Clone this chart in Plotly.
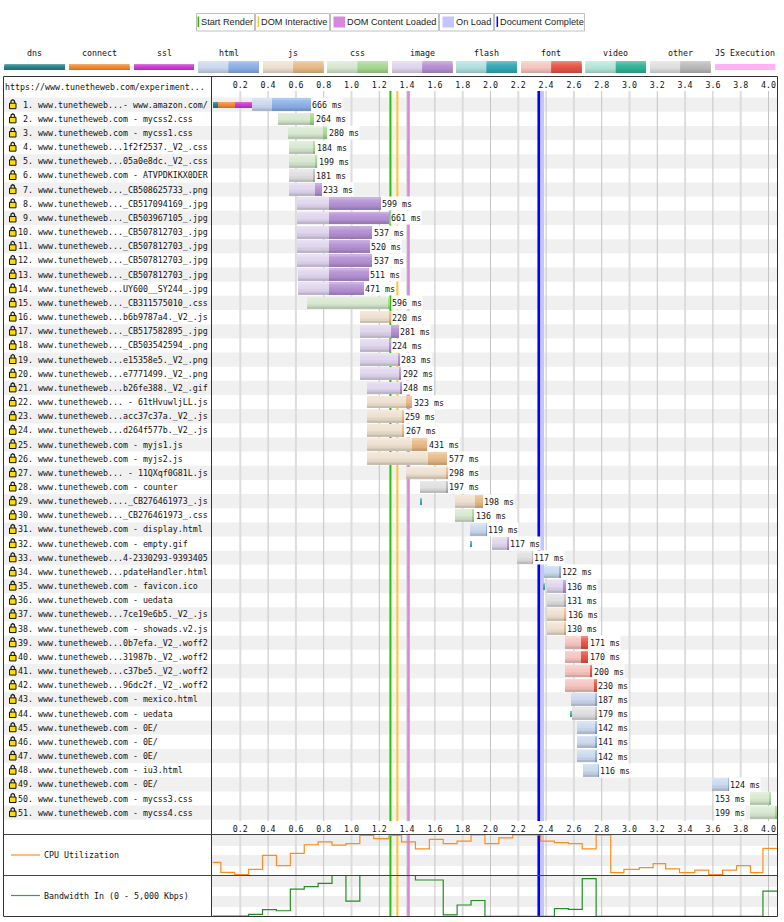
import plotly.graph_objects as go

W, H = 784, 922
MONO = "DejaVu Sans Mono"
SANS = "Liberation Sans"
MONO_SIZE = 8.3

page_url = "https://www.tunetheweb.com/experiment..."

names = [
    "www.tunetheweb...- www.amazon.com/", "www.tunetheweb.com - mycss2.css", "www.tunetheweb.com - mycss1.css",
    "www.tunetheweb...1f2f2537._V2_.css", "www.tunetheweb...05a0e8dc._V2_.css", "www.tunetheweb.com - ATVPDKIKX0DER",
    "www.tunetheweb..._CB508625733_.png", "www.tunetheweb..._CB517094169_.jpg", "www.tunetheweb..._CB503967105_.jpg",
    "www.tunetheweb..._CB507812703_.jpg", "www.tunetheweb..._CB507812703_.jpg", "www.tunetheweb..._CB507812703_.jpg",
    "www.tunetheweb..._CB507812703_.jpg", "www.tunetheweb...UY600__SY244_.jpg", "www.tunetheweb..._CB311575010_.css",
    "www.tunetheweb...b6b9787a4._V2_.js", "www.tunetheweb..._CB517582895_.jpg", "www.tunetheweb..._CB503542594_.png",
    "www.tunetheweb...e15358e5._V2_.png", "www.tunetheweb...e7771499._V2_.png", "www.tunetheweb...b26fe388._V2_.gif",
    "www.tunetheweb... - 61tHvuwljLL.js", "www.tunetheweb...acc37c37a._V2_.js", "www.tunetheweb...d264f577b._V2_.js",
    "www.tunetheweb.com - myjs1.js", "www.tunetheweb.com - myjs2.js", "www.tunetheweb... - 11QXqf0G81L.js",
    "www.tunetheweb.com - counter", "www.tunetheweb...._CB276461973_.js", "www.tunetheweb..._CB276461973_.css",
    "www.tunetheweb.com - display.html", "www.tunetheweb.com - empty.gif", "www.tunetheweb...4-2330293-9393405",
    "www.tunetheweb...pdateHandler.html", "www.tunetheweb.com - favicon.ico", "www.tunetheweb.com - uedata",
    "www.tunetheweb...7ce19e6b5._V2_.js", "www.tunetheweb.com - showads.v2.js", "www.tunetheweb...0b7efa._V2_.woff2",
    "www.tunetheweb...31987b._V2_.woff2", "www.tunetheweb...c37be5._V2_.woff2", "www.tunetheweb...96dc2f._V2_.woff2",
    "www.tunetheweb.com - mexico.html", "www.tunetheweb.com - uedata", "www.tunetheweb.com - 0E/",
    "www.tunetheweb.com - 0E/", "www.tunetheweb.com - 0E/", "www.tunetheweb.com - iu3.html",
    "www.tunetheweb.com - 0E/", "www.tunetheweb.com - mycss3.css", "www.tunetheweb.com - mycss4.css",
]

kinds = [
    "html", "css", "css", "css", "css", "other", "image", "image", "image", "image", "image", "image", "image",
    "image", "css", "js", "image", "image", "image", "image", "image", "js", "js", "js", "js", "js", "js", "other",
    "js", "css", "html", "image", "other", "html", "image", "other", "js", "js", "font", "font", "font", "font",
    "html", "other", "html", "html", "html", "html", "html", "css", "css",
]

# request start, seconds
starts = [
    0.037, 0.464, 0.543, 0.550, 0.550, 0.550, 0.550, 0.607, 0.607, 0.607, 0.607, 0.607, 0.610,
    0.615, 0.678, 1.054, 1.054, 1.054, 1.061, 1.061, 1.110, 1.110, 1.110, 1.110, 1.110, 1.110, 1.389, 1.490,
    1.742, 1.742, 1.850, 2.010, 2.185, 2.378, 2.400, 2.405, 2.405, 2.405, 2.530, 2.530, 2.530, 2.530,
    2.573, 2.582, 2.617, 2.617, 2.620, 2.660, 3.587, 3.860, 3.860,
]

# printed request time, milliseconds
durations_ms = [
    666, 264, 280, 184, 199, 181, 233, 599, 661, 537, 520, 537, 511, 471, 596, 220, 281, 224, 283, 292, 248,
    323, 259, 267, 431, 577, 298, 197, 198, 136, 119, 117, 117, 122, 136, 131, 136, 130, 171, 170, 200, 230,
    187, 179, 142, 141, 142, 116, 124, 153, 199,
]

# first byte of content, seconds
first_byte = [
    0.425, 0.701, 0.788, 0.725, 0.737, 0.725, 0.737, 0.838, 0.838, 0.838, 0.838, 0.838, 0.838,
    0.838, 1.265, 1.270, 1.280, 1.270, 1.335, 1.340, 1.350, 1.385, 1.360, 1.360, 1.435, 1.550, 1.680, 1.680,
    1.882, 1.870, 1.965, 2.120, 2.300, 2.495, 2.525, 2.530, 2.530, 2.530, 2.650, 2.650, 2.710, 2.740,
    2.755, 2.755, 2.755, 2.755, 2.755, 2.770, 3.705, 4.005, 4.050,
]

# connection phases of the first request
connection_kinds = ["dns", "connect", "ssl"]
connection_starts = [0.000, 0.035, 0.155]
connection_ends = [0.035, 0.155, 0.282]

# short DNS lookups on later requests
lookup_rows = [29, 32, 35, 44]
lookup_times = [1.495, 1.850, 2.375, 2.575]
lookup_lengths = [0.007, 0.007, 0.007, 0.010]

# page events, seconds
start_render = 1.280
dom_interactive = 1.330
dom_content_loaded = 1.410
on_load = (2.345, 2.385)
document_complete = 2.347

tick_values = [0.2, 0.4, 0.6, 0.8, 1.0, 1.2, 1.4, 1.6, 1.8, 2.0, 2.2, 2.4, 2.6, 2.8, 3.0, 3.2, 3.4, 3.6, 3.8, 4.0]
tick_labels = ["0.2", "0.4", "0.6", "0.8", "1.0", "1.2", "1.4", "1.6", "1.8", "2.0", "2.2", "2.4", "2.6", "2.8",
               "3.0", "3.2", "3.4", "3.6", "3.8", "4.0"]

cpu_times = [0.0, 0.06, 0.16, 0.26, 0.36, 0.46, 0.56, 0.66, 0.76, 0.86, 0.96, 1.06, 1.16, 1.27, 1.36, 1.46,
             1.56, 1.66, 1.76, 1.86, 1.96, 2.06, 2.16, 2.26, 2.36, 2.46, 2.56, 2.66, 2.76, 2.865, 2.96, 3.07,
             3.17, 3.26, 3.36, 3.47, 3.57, 3.67, 3.77, 3.87, 3.96, 4.065]
cpu_percent = [32, 7.5, 2, 15, 49, 24, 54, 75, 82, 74, 77.5, 98, 90, 98, 82, 65, 88, 77.5, 84, 99, 77.5, 92,
               99, 99, 84, 80, 77.5, 65, 99, 7, 15, 19, 29, 16, 7, 13, 2, 13, 24, 7, 66, 66]

bandwidth_times = [0.0, 0.26, 0.36, 0.46, 0.56, 0.66, 0.76, 0.86, 0.96, 1.06, 1.46, 1.66, 1.76, 1.86, 1.96,
                   2.46, 2.56, 2.66, 2.76, 3.96, 4.065]
bandwidth_kbps = [40, 250, 850, 700, 3350, 3650, 4050, 5000, 1875, 5000, 4450, 200, 1400, 1950, 25, 950, 875,
                  4625, 25, 3100, 3100]

# (waiting colour, content colour) per resource type
palette = {
    "html": ((204, 217, 238), (140, 176, 232)),
    "js": ((238, 225, 208), (232, 186, 136)),
    "css": ((216, 233, 208), (166, 216, 146)),
    "image": ((224, 214, 238), (181, 146, 212)),
    "flash": ((178, 224, 224), (52, 170, 180)),
    "font": ((246, 198, 192), (232, 86, 72)),
    "video": ((182, 230, 216), (50, 180, 150)),
    "other": ((224, 224, 224), (186, 186, 186)),
}
solid = {"dns": (40, 130, 140), "connect": (240, 140, 50), "ssl": (205, 60, 210)}
lookup_colour = (80, 175, 185)

legend_swatches = [
    ("dns", 4.5, 65, "dns"), ("connect", 69, 129.5, "connect"), ("ssl", 134, 194, "ssl"),
    ("html", 198, 259, "html"), ("js", 263, 323.5, "js"), ("css", 327, 388, "css"),
    ("image", 392, 452.5, "image"), ("flash", 456, 517, "flash"), ("font", 521, 581.5, "font"),
    ("video", 585.5, 646, "video"), ("other", 650, 710.5, "other"), ("JS Execution", 715, 775.5, None),
]
event_cells = [(196, 255), (255, 330), (330, 439), (439, 494), (494, 585)]
event_texts = [("Start Render", 199), ("DOM Interactive", 259), ("DOM Content Loaded", 345),
               ("On Load", 454), ("Document Complete", 498)]

# Page geometry in pixels
LEFT, DIVIDER, AXIS_X0, RIGHT = 3.5, 211.5, 212.5, 777.5
TOP, ROWS_TOP, ROWS_BOTTOM, CPU_TOP, CPU_BOTTOM, NET_BOTTOM = 76.5, 91, 821, 834.5, 875.5, 916.5
ROW_1_Y, ROW_STEP = 104.67, 14.16
PX_PER_SECOND = 139.0


def xp(px):
    return px / W


def yp(px):
    return 1 - px / H


def row_y(row):
    return ROW_1_Y + ROW_STEP * (row - 1)


def css(rgb):
    return f"rgb({round(rgb[0])},{round(rgb[1])},{round(rgb[2])})"


def shade(rgb, amount):
    # positive moves toward white, negative toward black
    target = 255 if amount > 0 else 0
    a = abs(amount)
    return tuple(c + (target - c) * a for c in rgb)


GLOSS = [0.3, 0.18, 0.1, 0.04, 0.0, -0.03, -0.06, -0.1, -0.16]

fig = go.Figure()
shapes = []
notes = []


def rect(x0, y0, x1, y1, fill, line=None, layer="below"):
    shapes.append(dict(type="rect", xref="paper", yref="paper", x0=xp(x0), x1=xp(x1), y0=yp(y0), y1=yp(y1),
                       fillcolor=fill, line=dict(color=line or "rgba(0,0,0,0)", width=1 if line else 0), layer=layer))


def rule(x0, y0, x1, y1, color, width=1, layer="below"):
    shapes.append(dict(type="line", xref="paper", yref="paper", x0=xp(x0), x1=xp(x1), y0=yp(y0), y1=yp(y1),
                       line=dict(color=color, width=width), layer=layer))


def text(label, px, py, family=MONO, size=MONO_SIZE, anchor="left", color="#111"):
    notes.append(dict(text=label, xref="paper", yref="paper", x=xp(px), y=yp(py), showarrow=False,
                      xanchor=anchor, yanchor="middle", font=dict(family=family, size=size, color=color)))


# Alternating row bands
for row in range(1, len(names) + 1):
    if row % 2:
        rect(LEFT, row_y(row) - ROW_STEP / 2, RIGHT, row_y(row) + ROW_STEP / 2, "#f0f0f0")

# Bands behind the two metric panels
for top, bottom in [(835, 846), (855, 866), (876, 887), (896, 907)]:
    rect(DIVIDER, top, RIGHT, bottom, "#efefef")

# Time grid, with alternating weights
spans = [(ROWS_TOP, ROWS_BOTTOM), (CPU_TOP, NET_BOTTOM)]
for i, tick in enumerate(tick_values):
    for top, bottom in spans:
        shapes.append(dict(type="line", xref="x", yref="paper", x0=tick, x1=tick, y0=yp(top), y1=yp(bottom),
                           line=dict(color="#dcdcdc" if i % 2 == 0 else "#c4c4c4", width=2 if i % 2 == 0 else 1),
                           layer="below"))

# Page events over the grid
for top, bottom in spans:
    shapes.append(dict(type="rect", xref="x", yref="paper", x0=on_load[0], x1=on_load[1], y0=yp(top), y1=yp(bottom),
                       fillcolor="#c4c4ff", line=dict(width=0), layer="below"))
    for when, color, width in [(start_render, "#28c000", 2), (dom_interactive, "#ffc629", 2),
                               (dom_content_loaded, "#d888dd", 2.6), (document_complete, "#0000ff", 2.6)]:
        shapes.append(dict(type="line", xref="x", yref="paper", x0=when, x1=when, y0=yp(top), y1=yp(bottom),
                           line=dict(color=color, width=width), layer="below"))

# One list of segments per bar height
tall = dict(rows=[], base=[], length=[], color=[])
slim = dict(rows=[], base=[], length=[], color=[])
for i, kind in enumerate(kinds):
    row = i + 1
    end = starts[i] + durations_ms[i] / 1000
    # the first request waits for its connection before the tall bar begins
    begin = connection_ends[-1] if row == 1 else starts[i]
    split = min(first_byte[i], end)
    waiting, content = palette[kind]
    tall["rows"] += [row, row]
    tall["base"] += [begin, split]
    tall["length"] += [split - begin, end - split]
    tall["color"] += [waiting, content]

for kind, a, b in zip(connection_kinds, connection_starts, connection_ends):
    slim["rows"].append(1)
    slim["base"].append(a)
    slim["length"].append(b - a)
    slim["color"].append(solid[kind])

for row, when, length in zip(lookup_rows, lookup_times, lookup_lengths):
    slim["rows"].append(row)
    slim["base"].append(when)
    slim["length"].append(length)
    slim["color"].append(lookup_colour)


def gloss_bars(group, height):
    # Stacked strips painted top to bottom give each bar its vertical sheen
    n = len(GLOSS)
    for k, amount in enumerate(GLOSS):
        fig.add_trace(go.Bar(
            y=group["rows"], x=group["length"], base=group["base"], orientation="h",
            width=height * (n - k) / n, offset=-height / 2 + k * height / n,
            marker=dict(color=[css(shade(c, amount)) for c in group["color"]], line=dict(width=0)),
            xaxis="x", yaxis="y", showlegend=False, hoverinfo="skip",
        ))


gloss_bars(tall, 12.6 / ROW_STEP)
gloss_bars(slim, 6.0 / ROW_STEP)

# Step traces for the metric panels
fig.add_trace(go.Scatter(x=cpu_times, y=cpu_percent, mode="lines", line=dict(color="#ff8c1a", width=1.2, shape="hv"),
                         xaxis="x2", yaxis="y2", showlegend=False, hoverinfo="skip"))
fig.add_trace(go.Scatter(x=bandwidth_times, y=bandwidth_kbps, mode="lines",
                         line=dict(color="#1f8f1f", width=1.2, shape="hv"),
                         xaxis="x3", yaxis="y3", showlegend=False, hoverinfo="skip"))

# Request labels and padlocks
for i, name in enumerate(names):
    row = i + 1
    cy = row_y(row)
    text(f"{row:>2}. {name}", 16, cy)
    rect(9.5, cy - 1.5, 16, cy + 4, "#ffdc00", "#111")
    shapes.append(dict(type="path", xref="paper", yref="paper",
                       path=f"M {xp(10.8)},{yp(cy - 1.5)} L {xp(11.2)},{yp(cy - 4)} L {xp(12.75)},{yp(cy - 5)} "
                            f"L {xp(14.3)},{yp(cy - 4)} L {xp(14.7)},{yp(cy - 1.5)}",
                       line=dict(color="#222", width=1.3), layer="below"))

# Time labels beside each bar; the last two sit to the left to stay on the page
for i, ms in enumerate(durations_ms):
    row = i + 1
    begin = starts[i]
    end = begin + ms / 1000
    on_left = row >= 50
    notes.append(dict(text=f"{ms} ms", xref="x", yref="y", x=begin if on_left else end, y=row,
                      xshift=-3 if on_left else 1, showarrow=False, xanchor="right" if on_left else "left",
                      yanchor="middle", bgcolor="#ffffff", borderpad=0, height=13,
                      font=dict(family=MONO, size=MONO_SIZE, color="#111")))

# Frame
rect(LEFT, TOP, RIGHT, NET_BOTTOM, "rgba(0,0,0,0)", "#333", layer="above")
rule(DIVIDER, TOP, DIVIDER, NET_BOTTOM, "#333", layer="above")
rule(LEFT, CPU_TOP, RIGHT, CPU_TOP, "#444", layer="above")
rule(LEFT, CPU_BOTTOM, RIGHT, CPU_BOTTOM, "#444", layer="above")

text(page_url, 3, 87)

# Panel captions
rule(11, 855, 40, 855, "#ffa64d", 1.5)
text("CPU Utilization", 42, 855)
rule(11, 895.5, 40, 895.5, "#3f9f3f", 1.2)
text("Bandwidth In (0 - 5,000 Kbps)", 42, 896)

# Event key across the top
for a, b in event_cells:
    rect(a + 0.5, 13.5, b - 0.5, 31, "#ffffff", "#c0c0c0")
rule(198.3, 16.5, 198.3, 27, "#28c000", 1.5)
rule(258.3, 16.5, 258.3, 27, "#ffc629", 1.5)
rect(333.5, 16.5, 345, 27.5, "#d888dd")
rect(442.5, 16.5, 454, 27.5, "#c4c4ff")
rule(497.3, 16.5, 497.3, 27, "#0000ff", 1.5)
for label, px in event_texts:
    text(label, px, 22, family=SANS, size=9.2, color="#222")

# Resource key
for label, a, b, kind in legend_swatches:
    text(label, (a + b) / 2, 53, anchor="center")
    if kind in solid:
        for k, amount in enumerate(GLOSS):
            rect(a, 64 + k * 6 / len(GLOSS), b, 70, css(shade(solid[kind], amount)))
    elif kind is None:
        rect(a, 64, b, 70, "#ffb3f5")
    else:
        waiting, content = palette[kind]
        mid = (a + b) / 2
        for k, amount in enumerate(GLOSS):
            y0 = 61 + k * 12 / len(GLOSS)
            rect(a, y0, mid, 73, css(shade(waiting, amount)))
            rect(mid, y0, b, 73, css(shade(content, amount)))

x_range = [0, (RIGHT - AXIS_X0) / PX_PER_SECOND]
x_domain = [xp(AXIS_X0), xp(RIGHT)]
tick_style = dict(tickmode="array", tickvals=tick_values, ticktext=tick_labels,
                  tickfont=dict(family=MONO, size=MONO_SIZE, color="#111"))

fig.update_layout(
    width=W, height=H, autosize=False, margin=dict(l=0, r=0, t=0, b=0),
    paper_bgcolor="#ffffff", plot_bgcolor="rgba(0,0,0,0)",
    barmode="overlay", bargap=0, showlegend=False,
    shapes=shapes, annotations=notes,
    xaxis=dict(domain=x_domain, range=x_range, anchor="y", side="top", showgrid=False, zeroline=False,
               ticks="", fixedrange=True, **tick_style),
    yaxis=dict(domain=[yp(ROWS_BOTTOM), yp(ROWS_TOP)],
               range=[1 + (ROWS_BOTTOM - ROW_1_Y) / ROW_STEP, 1 + (ROWS_TOP - ROW_1_Y) / ROW_STEP],
               visible=False, fixedrange=True),
    xaxis2=dict(domain=x_domain, range=x_range, anchor="y2", side="top", showgrid=False, zeroline=False,
                ticks="", fixedrange=True, **tick_style),
    yaxis2=dict(domain=[yp(CPU_BOTTOM), yp(CPU_TOP)], range=[0, 100], visible=False, fixedrange=True),
    xaxis3=dict(domain=x_domain, range=x_range, anchor="y3", showticklabels=False, showgrid=False,
                zeroline=False, ticks="", fixedrange=True),
    yaxis3=dict(domain=[yp(NET_BOTTOM), yp(CPU_BOTTOM)], range=[0, 5000], visible=False, fixedrange=True),
)

fig.write_html("out.html")
